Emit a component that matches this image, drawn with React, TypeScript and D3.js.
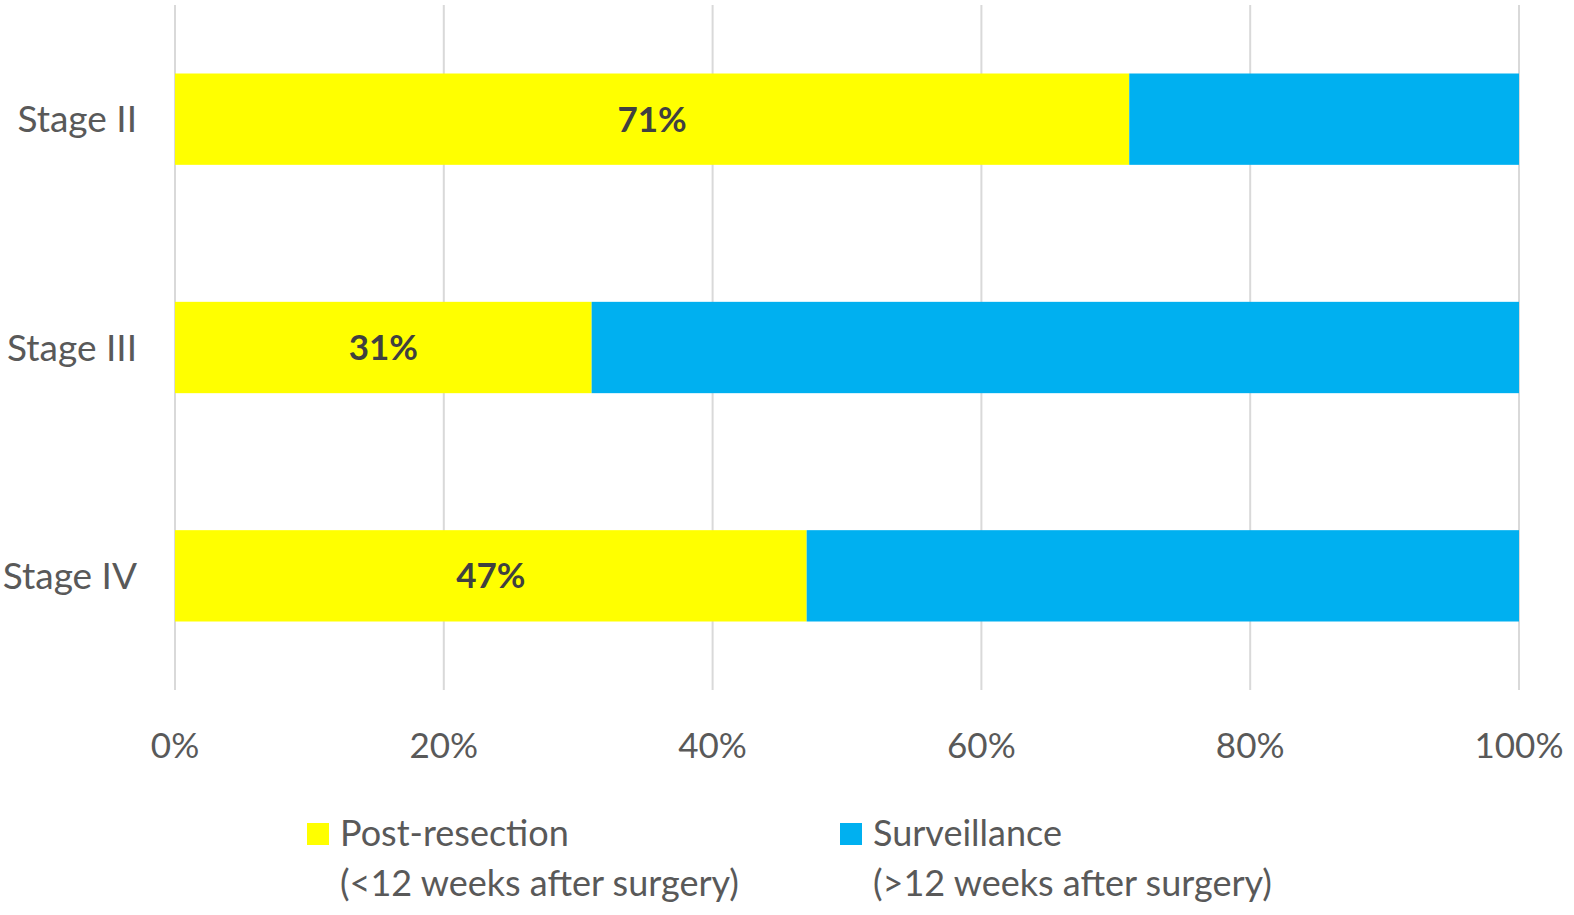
import { useEffect, useRef } from "react";
import * as d3 from "d3";

const W = 1574;
const H = 915;
const M = { top: 5, right: 55, bottom: 225, left: 175 };

const stages = ["Stage II", "Stage III", "Stage IV"];
const postResection = [71, 31, 47];
const surveillance = [29, 69, 53];
const xTicks = [0, 20, 40, 60, 80, 100];
const seriesNames = ["Post-resection", "Surveillance"];
const seriesNotes = ["(<12 weeks after surgery)", "(>12 weeks after surgery)"];
const colors = ["#FFFF00", "#00B0F0"];

const FONT = "Lato, 'Open Sans', sans-serif";

export default function App() {
  const svgRef = useRef<SVGSVGElement>(null);

  useEffect(() => {
    document.body.style.margin = "0";
    if (!svgRef.current) return;
    d3.select(svgRef.current).selectAll("*").remove();

    const svg = d3.select(svgRef.current);
    const innerW = W - M.left - M.right;
    const innerH = H - M.top - M.bottom;

    const x = d3.scaleLinear().domain([0, 100]).range([0, innerW]);
    const y = d3.scaleBand<string>().domain(stages).range([0, innerH]).paddingInner(0.6).paddingOuter(0.3);

    const g = svg.append("g").attr("transform", `translate(${M.left},${M.top})`);

    // gridlines
    g.selectAll("line.grid")
      .data(xTicks)
      .join("line")
      .attr("x1", (d) => x(d))
      .attr("x2", (d) => x(d))
      .attr("y1", 0)
      .attr("y2", innerH)
      .attr("stroke", "#D9D9D9")
      .attr("stroke-width", 2);

    // stacked bars
    stages.forEach((s, i) => {
      const vals = [postResection[i], surveillance[i]];
      let acc = 0;
      vals.forEach((v, j) => {
        g.append("rect")
          .attr("x", x(acc))
          .attr("y", y(s)!)
          .attr("width", x(acc + v) - x(acc))
          .attr("height", y.bandwidth())
          .attr("fill", colors[j]);
        acc += v;
      });
      g.append("text")
        .attr("x", x(postResection[i] / 2))
        .attr("y", y(s)! + y.bandwidth() / 2)
        .attr("dy", "0.36em")
        .attr("text-anchor", "middle")
        .attr("font-family", FONT)
        .attr("font-weight", "bold")
        .attr("font-size", 35)
        .attr("fill", "#404040")
        .text(`${postResection[i]}%`);
    });

    // category labels
    g.selectAll("text.cat")
      .data(stages)
      .join("text")
      .attr("x", -38)
      .attr("y", (d) => y(d)! + y.bandwidth() / 2)
      .attr("dy", "0.36em")
      .attr("text-anchor", "end")
      .attr("font-family", FONT)
      .attr("font-size", 37)
      .attr("fill", "#595959")
      .text((d) => d);

    // x tick labels
    g.selectAll("text.tick")
      .data(xTicks)
      .join("text")
      .attr("x", (d) => x(d))
      .attr("y", innerH + 68)
      .attr("text-anchor", "middle")
      .attr("font-family", FONT)
      .attr("font-size", 35)
      .attr("fill", "#595959")
      .text((d) => `${d}%`);

    // legend
    const legendX = [307, 840];
    seriesNames.forEach((name, i) => {
      const lg = svg.append("g").attr("transform", `translate(${legendX[i]},0)`);
      lg.append("rect").attr("x", 0).attr("y", 823).attr("width", 22).attr("height", 22).attr("fill", colors[i]);
      lg.append("text")
        .attr("x", 33)
        .attr("y", 846)
        .attr("font-family", FONT)
        .attr("font-size", 36)
        .attr("fill", "#595959")
        .text(name);
      lg.append("text")
        .attr("x", 33)
        .attr("y", 896)
        .attr("font-family", FONT)
        .attr("font-size", 36)
        .attr("fill", "#595959")
        .text(seriesNotes[i]);
    });
  }, []);

  return <svg ref={svgRef} width={W} height={H} viewBox={`0 0 ${W} ${H}`} style={{ display: "block", background: "#fff" }} />;
}
